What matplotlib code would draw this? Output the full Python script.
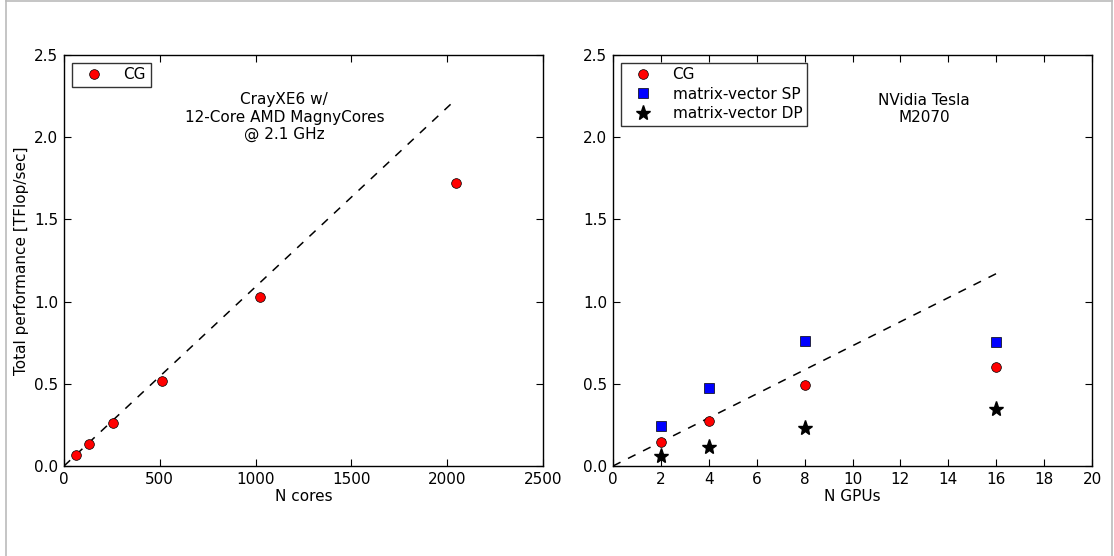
import matplotlib
matplotlib.use('Agg')
import matplotlib.pyplot as plt
from matplotlib.lines import Line2D

# CPU scaling (CrayXE6)
cores = [64, 128, 256, 512, 1024, 2048]
cg_cpu = [0.067, 0.133, 0.262, 0.514, 1.026, 1.721]
ideal_cpu_x = [0, 2048]
ideal_cpu_y = [0, 2.233]

# GPU scaling (Tesla M2070)
gpus = [2, 4, 8, 16]
cg_gpu = [0.144, 0.271, 0.493, 0.605]
mv_sp = [0.241, 0.475, 0.762, 0.757]
mv_dp = [0.060, 0.114, 0.232, 0.346]
ideal_gpu_x = [0, 16]
ideal_gpu_y = [0, 1.170]

plt.rcParams['font.family'] = 'DejaVu Sans'
plt.rcParams['font.size'] = 11
plt.rcParams['xtick.direction'] = 'in'
plt.rcParams['ytick.direction'] = 'in'
plt.rcParams['xtick.top'] = True
plt.rcParams['ytick.right'] = True
plt.rcParams['xtick.major.size'] = 5
plt.rcParams['ytick.major.size'] = 5
plt.rcParams['xtick.major.pad'] = 4
plt.rcParams['ytick.major.pad'] = 4

fig = plt.figure(figsize=(11.14, 5.56), dpi=100)
fig.patch.set_facecolor('white')

# grey frame of the screenshot
fig.add_artist(Line2D([6/1114, 6/1114], [0, 1], color='#bbbbbb', lw=1.2))
fig.add_artist(Line2D([6/1114, 1112/1114], [555.5/556, 555.5/556], color='#bbbbbb', lw=1.2))
fig.add_artist(Line2D([1112/1114, 1112/1114], [0, 1], color='#bbbbbb', lw=1.2))

ax1 = fig.add_axes([64/1114, 90/556, 479/1114, 411/556])
ax2 = fig.add_axes([613/1114, 90/556, 479/1114, 411/556])

ax1.plot(ideal_cpu_x, ideal_cpu_y, 'k--', lw=1.1, dashes=(5.5, 5.5))
ax1.plot(cores, cg_cpu, 'o', color='red', mec='black', mew=0.5, ms=7, label='CG')
ax1.set_xlim(0, 2500)
ax1.set_ylim(0, 2.5)
ax1.set_xlabel('N cores', labelpad=2)
ax1.set_ylabel('Total performance [TFlop/sec]')
ax1.text(1150, 2.12, 'CrayXE6 w/\n12-Core AMD MagnyCores\n@ 2.1 GHz', ha='center', va='center')
leg1 = ax1.legend(loc='upper left', numpoints=1, fancybox=False, borderaxespad=0.5,
                  handlelength=2.3, borderpad=0.3)
leg1.get_frame().set_edgecolor('black')
leg1.get_frame().set_linewidth(1)

ax2.plot(ideal_gpu_x, ideal_gpu_y, 'k--', lw=1.1, dashes=(5.5, 5.5))
ax2.plot(gpus, cg_gpu, 'o', color='red', mec='black', mew=0.5, ms=7, label='CG')
ax2.plot(gpus, mv_sp, 's', color='blue', mec='black', mew=0.5, ms=6.5, label='matrix-vector SP')
ax2.plot(gpus, mv_dp, '*', color='black', ms=11, label='matrix-vector DP')
ax2.set_xlim(0, 20)
ax2.set_ylim(0, 2.5)
ax2.set_xticks(range(0, 21, 2))
ax2.set_xlabel('N GPUs', labelpad=2)
ax2.text(13.0, 2.17, 'NVidia Tesla\nM2070', ha='center', va='center')
leg2 = ax2.legend(loc='upper left', numpoints=1, fancybox=False, borderaxespad=0.5,
                  handlelength=2.3, borderpad=0.3, labelspacing=0.3)
leg2.get_frame().set_edgecolor('black')
leg2.get_frame().set_linewidth(1)

for ax in (ax1, ax2):
    ax.set_yticks([0, 0.5, 1.0, 1.5, 2.0, 2.5])
    ax.set_yticklabels(['0.0', '0.5', '1.0', '1.5', '2.0', '2.5'])
    for s in ax.spines.values():
        s.set_linewidth(1)

fig.savefig('out.png', dpi=100, facecolor='white')
